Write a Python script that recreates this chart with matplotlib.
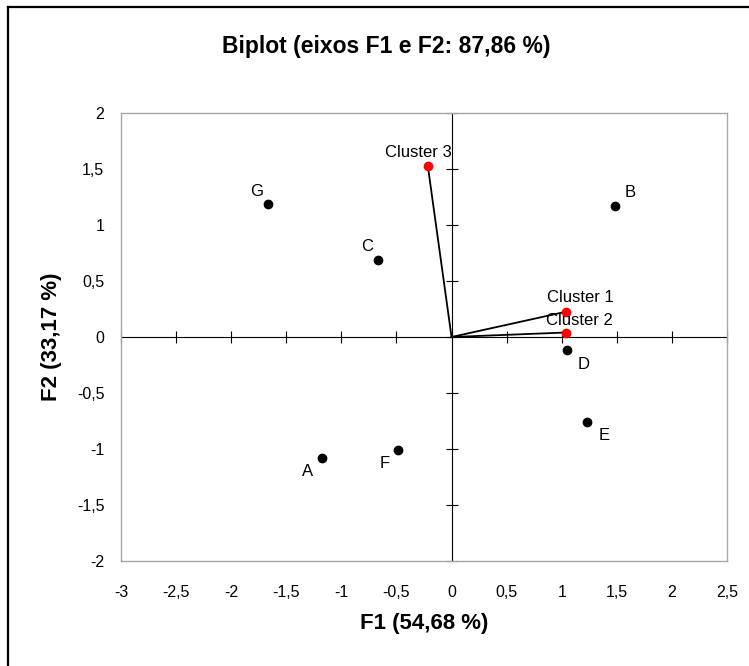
import numpy as np
import matplotlib
matplotlib.use("Agg")
import matplotlib.pyplot as plt
from matplotlib.lines import Line2D

plt.rcParams['font.family'] = ['Liberation Sans', 'DejaVu Sans']

# observations (F1, F2)
obs_names = ['A', 'B', 'C', 'D', 'E', 'F', 'G']
obs_f1 = [-1.18, 1.48, -0.665, 1.05, 1.23, -0.485, -1.67]
obs_f2 = [-1.08, 1.17, 0.685, -0.12, -0.755, -1.005, 1.19]

# variables (vectors from origin)
var_names = ['Cluster 1', 'Cluster 2', 'Cluster 3']
var_f1 = [1.035, 1.035, -0.215]
var_f2 = [0.225, 0.04, 1.525]

x_ticks = np.arange(-3, 2.51, 0.5)
y_ticks = np.arange(-2, 2.01, 0.5)

title = 'Biplot (eixos F1 e F2: 87,86 %)'
xlabel = 'F1 (54,68 %)'
ylabel = 'F2 (33,17 %)'

# label placement: (dx, dy) in points
obs_off = {'A': (-10, -10), 'B': (11, 10), 'C': (-8, 10), 'D': (12, -10),
           'E': (12, -10), 'F': (-10, -10), 'G': (-8, 9)}
var_off = {'Cluster 1': (11, 10), 'Cluster 2': (10, 9), 'Cluster 3': (-7, 10)}


def fmt(v):
    s = ('%g' % v).replace('.', ',')
    return s


fig = plt.figure(figsize=(7.49, 6.66), dpi=100)
ax = fig.add_axes([121 / 749, 105 / 666, 606 / 749, 448 / 666])
ax.set_xlim(-3, 2.5)
ax.set_ylim(-2, 2)

for sp in ax.spines.values():
    sp.set_color('#a6a6a6')
    sp.set_linewidth(1.0)

ax.set_xticks(x_ticks)
ax.set_yticks(y_ticks)
ax.set_xticklabels([fmt(v) for v in x_ticks])
ax.set_yticklabels([fmt(v) for v in y_ticks])
ax.tick_params(axis='x', length=0, pad=17, labelsize=11.5)
ax.tick_params(axis='y', length=0, pad=12, labelsize=11.5)

# central axes with crossing ticks
ax.axhline(0, color='black', lw=0.8, zorder=1)
ax.axvline(0, color='black', lw=0.8, zorder=1)
ax.plot(x_ticks, np.zeros_like(x_ticks), ls='none', marker='|',
        ms=8, mew=0.8, color='black', zorder=1, clip_on=False)
ax.plot(np.zeros_like(y_ticks), y_ticks, ls='none', marker='_',
        ms=8, mew=0.8, color='black', zorder=1, clip_on=False)

# vectors
for n, x, y in zip(var_names, var_f1, var_f2):
    ax.plot([0, x], [0, y], color='black', lw=1.3, zorder=2)
ax.plot(var_f1, var_f2, ls='none', marker='o', ms=6, color='red', zorder=3)
for n, x, y in zip(var_names, var_f1, var_f2):
    ax.annotate(n, (x, y), xytext=var_off[n], textcoords='offset points',
                ha='center', va='center', fontsize=12)

# observations
ax.plot(obs_f1, obs_f2, ls='none', marker='o', ms=6, color='black', zorder=3)
for n, x, y in zip(obs_names, obs_f1, obs_f2):
    ax.annotate(n, (x, y), xytext=obs_off[n], textcoords='offset points',
                ha='center', va='center', fontsize=12)

fig.text(386 / 749, 1 - 47 / 666, title, ha='center', va='center',
         fontsize=16.5, fontweight='bold')
fig.text(424 / 749, 1 - 623 / 666, xlabel, ha='center', va='center',
         fontsize=16, fontweight='bold')
fig.text(52 / 749, 1 - 337 / 666, ylabel, ha='center', va='center',
         fontsize=16, fontweight='bold', rotation=90)

# outer chart border (top and left)
fig.add_artist(Line2D([8 / 749, 8 / 749], [0, 1 - 7 / 666], color='black', lw=1.6))
fig.add_artist(Line2D([8 / 749, 1], [1 - 7 / 666, 1 - 7 / 666], color='black', lw=1.6))

fig.savefig('out.png', dpi=100)
